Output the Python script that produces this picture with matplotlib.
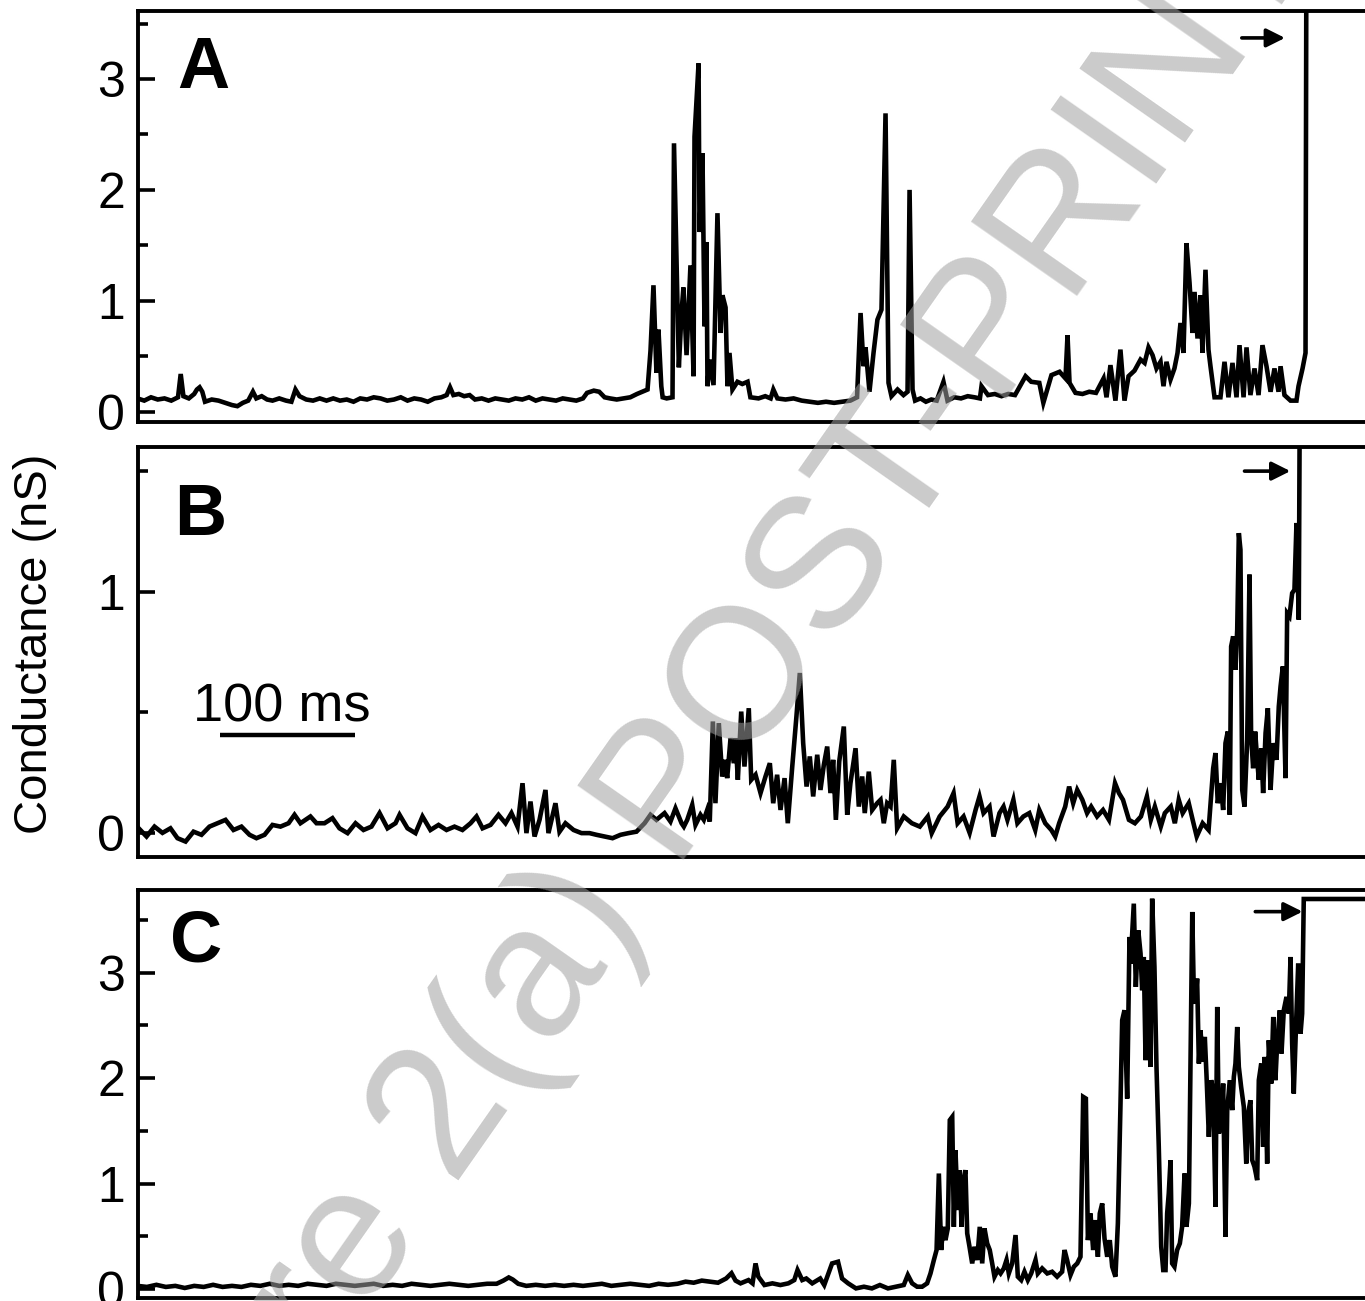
import numpy as np
import matplotlib
matplotlib.use("Agg")
import matplotlib.pyplot as plt

plt.rcParams["font.family"] = ["Liberation Sans", "DejaVu Sans"]

# Conductance traces: (time in ms, conductance in nS)
trace_a = [
    (0, 0.12), (5, 0.10), (10, 0.13), (15, 0.11), (20, 0.12), (25, 0.10), (30, 0.13), (32, 0.34),
    (34, 0.14), (38, 0.12), (42, 0.16), (44, 0.20), (46, 0.22), (48, 0.18), (50, 0.09), (55, 0.11),
    (60, 0.10), (65, 0.08), (70, 0.06), (74, 0.05), (78, 0.08), (82, 0.10), (85.5, 0.18), (88, 0.12),
    (92, 0.14), (96, 0.11), (100, 0.10), (105, 0.12), (110, 0.10), (114, 0.09), (117, 0.20), (120, 0.14),
    (125, 0.11), (130, 0.10), (135, 0.12), (140, 0.10), (145, 0.12), (150, 0.10), (155, 0.11), (160, 0.09),
    (165, 0.12), (170, 0.11), (175, 0.13), (180, 0.12), (185, 0.10), (190, 0.11), (195, 0.13), (200, 0.10),
    (205, 0.12), (210, 0.11), (215, 0.09), (220, 0.12), (225, 0.13), (229, 0.15), (231.5, 0.22), (234, 0.15),
    (238, 0.16), (242, 0.14), (246, 0.15), (250, 0.11), (255, 0.12), (260, 0.10), (265, 0.12), (270, 0.11),
    (275, 0.10), (280, 0.12), (285, 0.11), (290, 0.13), (295, 0.10), (300, 0.12), (305, 0.11), (310, 0.10),
    (315, 0.12), (320, 0.11), (325, 0.10), (330, 0.12), (333, 0.17), (338, 0.19), (342, 0.18), (346, 0.13),
    (350, 0.12), (355, 0.11), (360, 0.12), (365, 0.13), (370, 0.16), (374, 0.18), (377.8, 0.20), (380, 0.55),
    (382.2, 1.14), (384.4, 0.35), (385.9, 0.74), (388, 0.23), (389, 0.13), (392, 0.12), (396.3, 0.13),
    (397.4, 2.42), (401, 0.40), (403, 0.90), (404.4, 1.12), (406.7, 0.51), (409.6, 1.32), (411.9, 0.32),
    (412.6, 2.48), (415.6, 3.14), (416.3, 1.62), (418.5, 2.33), (420, 0.77), (421.5, 1.53), (422.2, 0.23),
    (423.7, 0.47), (426.7, 0.24), (429.6, 1.79), (431.9, 0.71), (433.3, 1.05), (435.6, 0.94), (437, 0.23),
    (438.5, 0.53), (440.7, 0.20), (444.4, 0.27), (448, 0.25), (451.9, 0.27), (454, 0.13), (460, 0.12),
    (465, 0.14), (469, 0.12), (471, 0.20), (474, 0.12), (480, 0.11), (486, 0.12), (492, 0.10), (498, 0.09),
    (504, 0.08), (510, 0.09), (516, 0.08), (522, 0.09), (528, 0.10), (533, 0.13), (535.6, 0.89),
    (537.8, 0.41), (539.3, 0.58), (542.2, 0.18), (545.2, 0.53), (548.1, 0.83), (551.1, 0.92), (554.1, 2.69),
    (556.3, 0.26), (558.5, 0.14), (563, 0.20), (567.4, 0.15), (570.4, 0.18), (571.9, 2.00), (574.1, 0.20),
    (576, 0.10), (580, 0.12), (584, 0.09), (588, 0.11), (592, 0.10), (597, 0.27), (600, 0.10), (605, 0.13),
    (610, 0.12), (615, 0.14), (620, 0.13), (624, 0.12), (625.2, 0.23), (630, 0.15), (635, 0.16), (640, 0.14),
    (645, 0.16), (650, 0.15), (657.8, 0.32), (662, 0.27), (668, 0.26), (671, 0.08), (677, 0.33), (683, 0.36),
    (687.4, 0.30), (688.9, 0.69), (690.4, 0.26), (694.8, 0.17), (700, 0.16), (705, 0.18), (710, 0.17),
    (715.6, 0.30), (717.8, 0.13), (720.7, 0.42), (724.4, 0.10), (728.1, 0.56), (731.1, 0.10), (734.1, 0.32),
    (738.5, 0.37), (743, 0.47), (746, 0.44), (748.9, 0.58), (751.9, 0.51), (754.8, 0.39), (757.8, 0.45),
    (760, 0.23), (762.2, 0.45), (765.2, 0.29), (768.1, 0.39), (770.4, 0.53), (772.6, 0.80), (774.8, 0.53),
    (777, 1.52), (779.3, 1.16), (781.5, 0.71), (783, 1.08), (785.2, 0.66), (787.4, 1.05), (788.9, 0.53),
    (791.1, 1.28), (793.3, 0.56), (794.8, 0.41), (797.8, 0.13), (802.2, 0.13), (805.2, 0.45), (808.1, 0.13),
    (811.1, 0.44), (814.1, 0.13), (816.3, 0.60), (819.3, 0.13), (821.5, 0.58), (824.4, 0.15), (827.4, 0.39),
    (830.4, 0.15), (833.3, 0.60), (836.3, 0.41), (839.3, 0.18), (842.2, 0.39), (845.2, 0.18), (846.7, 0.41),
    (849.6, 0.15), (854.1, 0.10), (858.5, 0.10), (860, 0.23), (863, 0.39), (865.2, 0.53), (866, 5.0),
]

trace_b = [
    (0.7, 0.020), (6.7, -0.015), (12.6, 0.026), (18.5, 0.000), (24.4, 0.019), (29.6, -0.022), (35.6, -0.036),
    (41.5, 0.005), (47.4, -0.008), (53.3, 0.026), (59.3, 0.040), (65.2, 0.054), (71.1, 0.012), (77, 0.026),
    (83, -0.008), (88.1, -0.022), (94.1, -0.008), (100, 0.033), (105.9, 0.026), (111.9, 0.040), (116.3, 0.075),
    (120.7, 0.040), (128.1, 0.068), (132.6, 0.040), (138.5, 0.040), (144.4, 0.061), (149.6, 0.019),
    (155.6, -0.001), (161.5, 0.040), (167.4, 0.012), (173.3, 0.026), (179.3, 0.082), (185.2, 0.019),
    (191.1, 0.040), (194.1, 0.075), (200, 0.019), (205.9, -0.001), (211.1, 0.068), (217, 0.012), (223, 0.033),
    (228.9, 0.012), (234.8, 0.026), (240.7, 0.012), (246.7, 0.040), (251.1, 0.068), (255.6, 0.019),
    (261.5, 0.033), (267.4, 0.075), (272.6, 0.040), (277, 0.082), (281.5, 0.026), (285.2, 0.206),
    (288.1, -0.001), (291.1, 0.130), (294.1, -0.015), (297.8, 0.054), (302.2, 0.178), (304.4, -0.001),
    (309.6, 0.123), (312.6, 0.005), (317, 0.040), (323, 0.012), (328.9, -0.001), (334.8, -0.001),
    (340, -0.008), (345.9, -0.015), (351.9, -0.022), (357.8, -0.008), (363.7, -0.001), (369.6, 0.005),
    (375.6, 0.040), (380, 0.075), (384.4, 0.054), (390.4, 0.082), (394.8, 0.047), (398.5, 0.102), (403, 0.040),
    (404.7, 0.026), (407.2, 0.054), (410.9, 0.116), (413.3, 0.033), (417, 0.075), (419.5, 0.054), (422, 0.095),
    (423.9, 0.047), (426.2, 0.462), (428.1, 0.123), (430.6, 0.455), (433.1, 0.234), (435, 0.303), (436.8, 0.227),
    (439.3, 0.393), (441.7, 0.289), (443, 0.393), (444.7, 0.220), (447.2, 0.503), (449.6, 0.275),
    (452.8, 0.517), (454.6, 0.220), (457.8, 0.241), (461.5, 0.165), (465.2, 0.234), (468.4, 0.289),
    (470.9, 0.123), (473.8, 0.241), (476.3, 0.095), (479.3, 0.227), (481.7, 0.040), (485, 0.275),
    (488.1, 0.483), (490.6, 0.663), (493.1, 0.372), (495.6, 0.192), (498, 0.317), (500.5, 0.151),
    (503.5, 0.324), (505.9, 0.178), (508.4, 0.282), (510.9, 0.358), (513.3, 0.165), (515.3, 0.303),
    (517.3, 0.054), (519.8, 0.296), (523.2, 0.441), (525.7, 0.075), (528.1, 0.206), (531.9, 0.351),
    (534.3, 0.109), (536.8, 0.234), (538.7, 0.082), (541.7, 0.254), (544.2, 0.095), (547.9, 0.123),
    (550.4, 0.137), (552.8, 0.040), (555.3, 0.123), (557.8, 0.109), (560.2, 0.303), (562.7, 0.019),
    (567.6, 0.068), (573.6, 0.040), (579.5, 0.026), (585.4, 0.068), (588.3, -0.001), (594.2, 0.068),
    (600.1, 0.109), (604.5, 0.165), (607.5, 0.040), (611.9, 0.068), (616.4, 0.000), (620.8, 0.095),
    (623.7, 0.151), (626.7, 0.082), (631.1, 0.109), (634.1, -0.015), (638.5, 0.082), (641.5, 0.109),
    (644.4, 0.054), (648.8, 0.137), (651.8, 0.040), (656.2, 0.068), (660.6, 0.082), (665, 0.012),
    (668, 0.095), (672.4, 0.040), (676.9, 0.012), (679.8, -0.015), (682.7, 0.040), (687.2, 0.109),
    (690.1, 0.192), (693.1, 0.123), (696.1, 0.178), (699.9, 0.137), (703.4, 0.082), (706.4, 0.109),
    (710.8, 0.068), (715.2, 0.095), (719.6, 0.054), (724.1, 0.206), (727, 0.165), (730, 0.137),
    (734.4, 0.054), (738.8, 0.040), (743.3, 0.068), (747.7, 0.151), (750.6, 0.054), (753.6, 0.109),
    (758, 0.026), (761, 0.082), (765.4, 0.109), (768.4, 0.040), (771.3, 0.137), (774.2, 0.082),
    (778.7, 0.123), (781.6, 0.054), (784.6, -0.015), (789, 0.040), (793.4, 0.012), (796.8, 0.268),
    (798.5, 0.331), (800.2, 0.123), (802.2, 0.206), (804.2, 0.095), (805.9, 0.372), (807.6, 0.420),
    (809.1, 0.075), (810.1, 0.773), (811.6, 0.815), (813.3, 0.676), (814.6, 0.842), (815.8, 1.243),
    (817, 1.174), (818.3, 0.178), (820, 0.109), (822, 0.386), (823.7, 1.071), (824.9, 0.400), (826.4, 0.268),
    (827.9, 0.420), (829.4, 0.303), (830.6, 0.220), (832.4, 0.351), (833.8, 0.165), (835.6, 0.414),
    (837.3, 0.517), (839.3, 0.178), (841.3, 0.372), (843.7, 0.303), (845.4, 0.524), (846.7, 0.607),
    (848.4, 0.690), (850.4, 0.227), (851.6, 0.911), (853.3, 0.898), (855.3, 0.994), (857, 1.008),
    (858.5, 1.285), (860.2, 0.884), (861.5, 2.5),
]

trace_c = [
    (0, 0.03), (7, 0.02), (14, 0.04), (21, 0.02), (28, 0.03), (35, 0.01), (42, 0.03), (49, 0.02), (56, 0.04),
    (63, 0.02), (70, 0.03), (77, 0.02), (84, 0.04), (91, 0.03), (98, 0.05), (105, 0.03), (112, 0.04),
    (119, 0.03), (126, 0.05), (133, 0.04), (140, 0.03), (147, 0.05), (154, 0.04), (161, 0.03), (168, 0.04),
    (175, 0.05), (182, 0.03), (189, 0.04), (196, 0.03), (203, 0.05), (210, 0.04), (217, 0.03), (224, 0.04),
    (231, 0.05), (238, 0.04), (245, 0.03), (252, 0.04), (259, 0.05), (266, 0.05), (271, 0.08), (275, 0.11),
    (278, 0.09), (282, 0.05), (288, 0.03), (295, 0.04), (302, 0.03), (309, 0.04), (316, 0.03), (323, 0.04),
    (330, 0.03), (337, 0.04), (344, 0.05), (351, 0.03), (358, 0.04), (365, 0.05), (372, 0.04), (379, 0.03),
    (386, 0.05), (393, 0.04), (400, 0.05), (406, 0.07), (412, 0.06), (418, 0.08), (424, 0.07), (430, 0.06),
    (436, 0.10), (440, 0.15), (443, 0.08), (446.7, 0.054), (452.6, 0.085), (455.6, 0.054), (457.8, 0.243),
    (459.9, 0.117), (464.4, 0.038), (470.3, 0.054), (476.2, 0.038), (482.1, 0.054), (486.5, 0.085),
    (488.9, 0.180), (492.4, 0.085), (495.4, 0.100), (499.8, 0.054), (505.7, 0.100), (508.7, 0.038),
    (514.5, 0.243), (518.9, 0.259), (521.9, 0.100), (526.4, 0.054), (532.2, 0.006), (538.1, 0.022),
    (544, 0.006), (549.9, 0.038), (555.9, 0.006), (561.8, 0.022), (567.6, 0.038), (570.6, 0.133),
    (573.8, 0.054), (577.5, 0.022), (581.2, 0.022), (584.9, 0.054), (587.4, 0.148), (589.9, 0.275),
    (591.9, 0.370), (593.6, 1.096), (595.3, 0.370), (596.8, 0.590), (598.5, 0.464), (600.2, 0.575),
    (601.7, 1.602), (603.5, 1.633), (604.7, 0.590), (605.9, 1.318), (607.6, 0.749), (609.1, 1.128),
    (610.4, 0.590), (611.6, 1.002), (613.3, 1.128), (614.6, 0.528), (616.3, 0.401), (618.3, 0.243),
    (620, 0.401), (622, 0.275), (623.9, 0.590), (625.7, 0.243), (627.4, 0.575), (629.4, 0.433), (631.3, 0.370),
    (633.1, 0.243), (634.8, 0.117), (637.3, 0.180), (639.3, 0.148), (641.7, 0.196), (643.7, 0.275),
    (645.4, 0.148), (647.9, 0.243), (650.4, 0.512), (652.1, 0.117), (654.6, 0.085), (657, 0.164),
    (659.5, 0.085), (662, 0.148), (665.2, 0.275), (666.9, 0.148), (670.1, 0.196), (673.9, 0.148),
    (677.5, 0.164), (681.2, 0.117), (684.9, 0.164), (686.7, 0.370), (688.6, 0.275), (691.1, 0.133),
    (693.6, 0.212), (696.1, 0.243), (698.5, 0.306), (700.5, 1.823), (702.5, 1.807), (704, 0.464),
    (705.9, 0.717), (707.9, 0.370), (709.6, 0.654), (711.4, 0.306), (712.8, 0.717), (714.6, 0.812),
    (716.3, 0.480), (718.3, 0.306), (720.2, 0.464), (722, 0.212), (724.4, 0.117), (726.2, 0.623),
    (728.1, 1.728), (729.4, 2.550), (731.1, 2.645), (733.1, 1.807), (734.8, 3.340), (735.6, 3.087),
    (738, 3.656), (739.5, 2.866), (741.3, 3.403), (743, 3.182), (744.2, 2.834), (745.4, 3.150), (746.7, 2.171),
    (747.9, 3.118), (749.1, 2.423), (750.4, 2.107), (751.6, 3.703), (753.3, 3.055), (754.8, 2.107),
    (756.5, 1.349), (758.3, 0.401), (759.8, 0.180), (761.5, 0.180), (762.7, 0.717), (763.9, 0.907),
    (765.2, 1.223), (766.4, 0.243), (768.1, 0.212), (770.1, 0.370), (772.1, 0.433), (773.8, 0.590),
    (775.6, 1.096), (777, 0.590), (778.8, 0.812), (780, 2.107), (781.3, 3.577), (782.5, 2.771), (783.7, 2.708),
    (784.9, 2.945), (786.2, 2.139), (787.4, 2.455), (789.1, 2.155), (790.6, 2.392), (791.9, 2.013),
    (793.6, 1.444), (795.3, 1.981), (796.8, 1.886), (798.5, 0.780), (799.8, 2.676), (801, 1.476),
    (802.7, 1.571), (804.2, 1.949), (805.9, 0.496), (807.2, 1.697), (809.1, 1.981), (810.9, 1.697),
    (812.1, 2.013), (813.3, 2.139), (814.6, 2.486), (815.8, 2.107), (817.5, 1.918), (819.5, 1.728),
    (821.3, 1.191), (822.7, 1.665), (824.4, 1.791), (825.7, 1.223), (827.4, 1.160), (829.4, 1.033),
    (830.6, 1.981), (832.4, 2.139), (833.8, 1.349), (835, 2.202), (836.8, 1.191), (838, 2.360), (839.8, 1.949),
    (841.3, 2.581), (842.9, 1.981), (844.2, 2.329), (846.2, 2.645), (847.4, 2.234), (849.1, 2.645),
    (851.1, 2.771), (852.8, 2.613), (854.1, 3.150), (855.3, 2.329), (856.5, 1.855), (858.3, 2.550),
    (859.8, 3.087), (861.5, 2.423), (862.7, 2.613), (863.9, 3.700), (935, 3.700),
]

panel_labels = ["A", "B", "C"]
y_limits = [(-0.09, 3.61), (-0.10, 1.60), (-0.085, 3.79)]
y_major = [[0, 1, 2, 3], [0, 1], [0, 1, 2, 3]]
y_minor = [[0.5, 1.5, 2.5, 3.5], [0.5, 1.5], [0.5, 1.5, 2.5, 3.5]]
# arrow (start ms, end ms, level nS) marking the jump off scale
arrows = [(818, 850, 3.37), (820, 854, 1.50), (828, 863, 3.58)]
scalebar_ms = (61, 100)  # start, length
scalebar_level = 0.405

fig = plt.figure(figsize=(13.65, 13.01), dpi=100)
W, H = 1365, 1301
left = 137.5 / W
width = 0.92
px_per_ms = 1.35
x_max = width * W / px_per_ms
boxes = [(11.3, 421.7), (447, 857), (889.5, 1298)]  # top/bottom spine (pixels)
label_pos = [(177, 88), (174, 535), (170, 961)]

for i, (trace, box) in enumerate(zip([trace_a, trace_b, trace_c], boxes)):
    top, bot = box
    ax = fig.add_axes([left, 1 - bot / H, width, (bot - top) / H])
    t = np.array([p[0] for p in trace])
    g = np.array([p[1] for p in trace])
    ax.plot(t, g, color="black", lw=3.3, solid_joinstyle="miter")
    ax.set_xlim(0, x_max)
    ax.set_ylim(*y_limits[i])
    ax.set_yticks(y_major[i])
    ax.set_yticks(y_minor[i], minor=True)
    ax.set_xticks([])
    ax.spines["right"].set_visible(False)
    for s in ["left", "top", "bottom"]:
        ax.spines[s].set_linewidth(2.8)
    ax.tick_params(axis="y", which="major", direction="in", length=12, width=2.6,
                   labelsize=36, pad=9)
    ax.tick_params(axis="y", which="minor", direction="in", length=7, width=2.6)
    x0, x1, lvl = arrows[i]
    ax.annotate("", xy=(x1, lvl), xytext=(x0, lvl),
                arrowprops=dict(arrowstyle="-|>", lw=2.6, color="black",
                                mutation_scale=28, shrinkA=0, shrinkB=0))
    lx, ly = label_pos[i]
    fig.text(lx / W, 1 - ly / H, panel_labels[i], fontsize=52, fontweight="bold",
             ha="left", va="baseline")
    if i == 1:
        s0, slen = scalebar_ms
        ax.plot([s0, s0 + slen], [scalebar_level, scalebar_level], color="black",
                lw=3.2, solid_capstyle="butt")
        fig.text(193 / W, 1 - 722 / H, "100 ms", fontsize=39, ha="left", va="baseline")

fig.text(35 / W, 1 - 644 / H, "Conductance (nS)", fontsize=34, rotation=90,
         ha="center", va="center")

fig.text(680 / W, 1 - 780 / H, "Figure 2(a) POST-PRINT", fontsize=135, rotation=55,
         rotation_mode="anchor", ha="center", va="center", color="#a0a0a0", alpha=0.55,
         zorder=10)

fig.savefig("out.png", dpi=100)
